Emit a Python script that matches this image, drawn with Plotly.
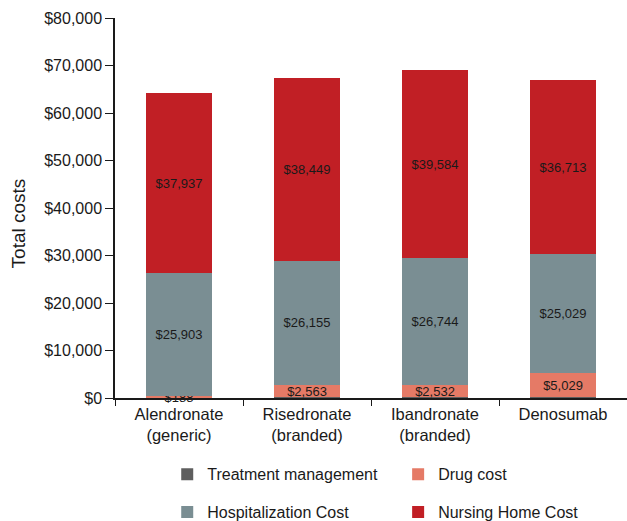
import plotly.graph_objects as go

categories = ["Alendronate<br>(generic)", "Risedronate<br>(branded)", "Ibandronate<br>(branded)", "Denosumab"]
treatment_management = [150, 150, 150, 200]
drug_cost = [188, 2563, 2532, 5029]
hospitalization_cost = [25903, 26155, 26744, 25029]
nursing_home_cost = [37937, 38449, 39584, 36713]
y_ticks = [0, 10000, 20000, 30000, 40000, 50000, 60000, 70000, 80000]

series = [
    ("Treatment management", treatment_management, "#5e5e5e", False, "legend", "g1"),
    ("Drug cost", drug_cost, "#e57a66", True, "legend2", "g2"),
    ("Hospitalization Cost", hospitalization_cost, "#7a8e93", True, "legend", "g3"),
    ("Nursing Home Cost", nursing_home_cost, "#c11f25", True, "legend2", "g4"),
]

fig = go.Figure()
for name, vals, color, show_text, leg, grp in series:
    fig.add_trace(go.Bar(
        x=categories, y=vals, name=name,
        marker=dict(color=color, line=dict(width=0)),
        width=0.51,
        text=vals if show_text else None,
        texttemplate="$%{y:,.0f}" if show_text else None,
        textposition="inside" if show_text else "none",
        insidetextanchor="middle",
        insidetextfont=dict(color="#1a1a1a", size=13),
        cliponaxis=False,
        legend=leg, legendgroup=grp,
    ))

fig.update_layout(
    barmode="stack",
    width=627, height=521,
    margin=dict(l=115, r=0, t=18, b=123, autoexpand=False),
    plot_bgcolor="white", paper_bgcolor="white",
    font=dict(family="Liberation Sans, Arial, sans-serif", color="#1a1a1a", size=16),
    uniformtext=dict(mode="show", minsize=13),
    legend=dict(x=0.102, y=-0.156, xanchor="left", yanchor="top",
                font=dict(size=16), tracegroupgap=14, traceorder="grouped",
                bgcolor="rgba(0,0,0,0)"),
    legend2=dict(x=0.553, y=-0.156, xanchor="left", yanchor="top",
                 font=dict(size=16), tracegroupgap=14, traceorder="grouped",
                 bgcolor="rgba(0,0,0,0)"),
    annotations=[dict(text="Total costs", xref="paper", yref="paper",
                      x=-0.189, y=0.46, xanchor="center", yanchor="middle",
                      textangle=-90, showarrow=False, font=dict(size=19))],
)

fig.update_xaxes(
    range=[-0.5, 3.5], showline=True, linecolor="#1a1a1a", linewidth=1.5,
    ticks="outside", tickson="boundaries", ticklen=6, tickcolor="#1a1a1a",
    tickfont=dict(size=16.5), showgrid=False, automargin=False,
)
fig.update_yaxes(
    range=[0, 80000], tickvals=y_ticks, tickformat="$,",
    showline=True, linecolor="#1a1a1a", linewidth=1.5,
    ticks="outside", ticklen=8, tickcolor="#1a1a1a",
    tickfont=dict(size=16), showgrid=False, zeroline=False, automargin=False,
)

fig.write_html("out.html", config={"displayModeBar": False},
               post_script="document.body.style.margin='0';")
